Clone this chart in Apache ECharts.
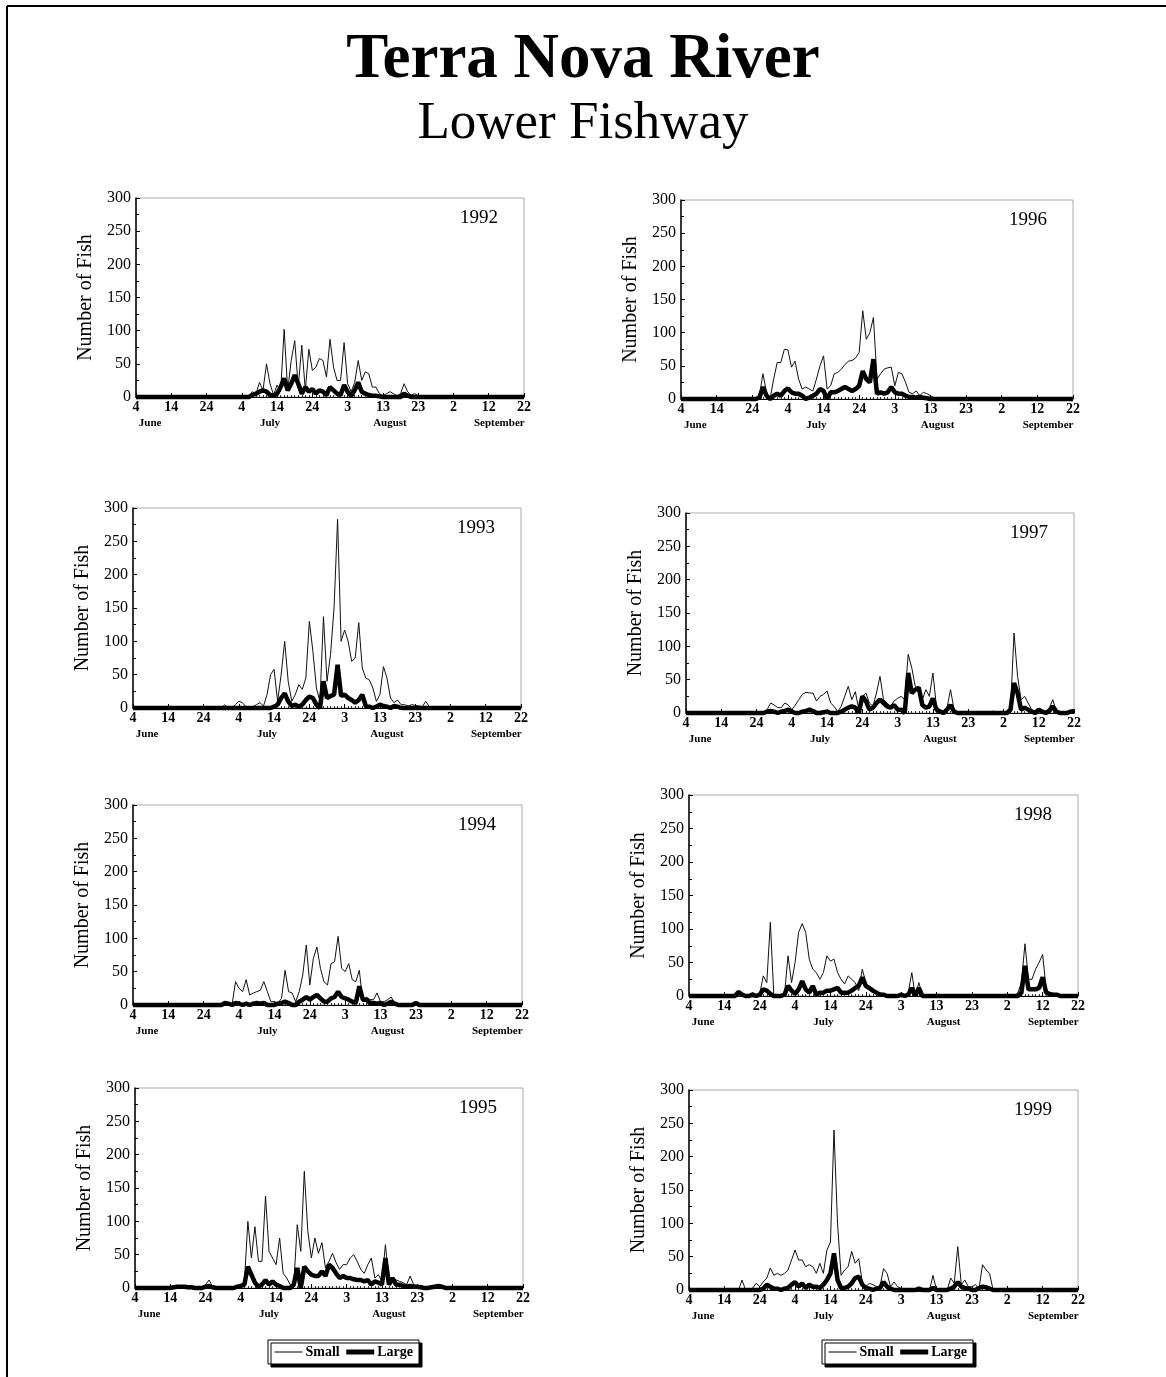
<!DOCTYPE html>
<html>
<head>
<meta charset="utf-8">
<title>Terra Nova River - Lower Fishway</title>
<script src="https://cdn.jsdelivr.net/npm/echarts@6/dist/echarts.min.js"></script>
<style>
  html, body { margin: 0; padding: 0; background: #fff; }
  #chart { width: 1166px; height: 1377px; }
</style>
</head>
<body>
<div id="chart"></div>
<script>
// days counted from June 4 (0) to September 22 (110)
const dayTickLabels = ['4', '14', '24', '4', '14', '24', '3', '13', '23', '2', '12', '22']
const monthNames = ['June', 'July', 'August', 'September']
const monthLabelDays = [4, 38, 72, 103]
const seriesNames = ['Small', 'Large']

// daily counts, first value is on day startXXXX; zero outside the listed run
const start1992 = 32
const small1992 = [2, 8, 4, 22, 10, 50, 20, 3, 18, 8, 102, 10, 55, 85, 15, 78, 10, 72, 40, 45, 58, 55, 30, 87, 45, 25, 25, 82, 20, 8, 22, 55, 25, 38, 35, 15, 15, 5, 2, 5, 8, 5, 2, 5, 20, 8, 3, 5, 2, 1]
const large1992 = [0, 3, 5, 8, 10, 8, 3, 2, 5, 15, 28, 10, 20, 33, 20, 5, 15, 8, 12, 5, 10, 8, 3, 15, 10, 5, 3, 18, 8, 2, 10, 22, 8, 5, 3, 2, 2, 1, 0, 0, 0, 0, 0, 0, 5, 2, 0, 0, 0, 0]

const start1993 = 25
const small1993 = [0, 5, 0, 0, 5, 10, 8, 2, 0, 2, 5, 8, 3, 20, 50, 58, 10, 50, 100, 40, 10, 20, 35, 28, 45, 130, 85, 30, 10, 137, 40, 80, 150, 283, 100, 117, 100, 70, 75, 128, 60, 45, 42, 30, 10, 20, 62, 45, 15, 8, 12, 5, 5, 3, 5, 4, 3, 2, 10, 2, 0]
const large1993 = [0, 0, 0, 0, 0, 0, 0, 0, 0, 0, 0, 0, 0, 0, 0, 2, 5, 15, 22, 10, 3, 5, 2, 5, 12, 17, 15, 5, 0, 40, 15, 18, 20, 65, 18, 20, 15, 12, 8, 12, 20, 3, 2, 0, 2, 5, 3, 2, 0, 3, 2, 0, 0, 0, 0, 0, 0, 0, 0, 0, 0]

const start1994 = 25
const small1994 = [0, 2, 0, 0, 35, 25, 20, 38, 15, 18, 20, 22, 35, 20, 5, 5, 3, 10, 52, 20, 18, 5, 20, 45, 90, 30, 70, 87, 55, 35, 30, 62, 65, 103, 55, 50, 62, 38, 35, 52, 5, 12, 8, 8, 18, 5, 5, 8, 12, 3, 0, 0, 0, 0, 0, 3, 0]
const large1994 = [0, 3, 2, 0, 3, 2, 0, 2, 0, 2, 3, 2, 3, 0, 0, 0, 2, 3, 5, 3, 0, 0, 5, 8, 12, 8, 12, 15, 10, 5, 5, 10, 12, 20, 12, 10, 8, 5, 3, 28, 8, 8, 3, 3, 2, 3, 0, 2, 5, 2, 0, 0, 0, 0, 0, 3, 0]

const start1995 = 10
const small1995 = [0, 1, 2, 2, 2, 2, 1, 1, 0, 0, 5, 12, 2, 0, 0, 0, 0, 0, 1, 2, 5, 8, 100, 45, 92, 40, 40, 138, 55, 45, 35, 75, 22, 15, 5, 5, 95, 55, 175, 85, 45, 75, 52, 68, 30, 40, 52, 38, 28, 35, 35, 45, 50, 40, 28, 22, 35, 45, 15, 20, 10, 65, 10, 15, 12, 10, 8, 5, 18, 5, 3, 2, 2, 2, 1, 2, 2, 3, 1, 0]
const large1995 = [0, 1, 2, 2, 2, 1, 1, 0, 0, 0, 2, 3, 1, 0, 0, 0, 0, 0, 0, 2, 3, 5, 32, 20, 8, 2, 5, 12, 5, 10, 5, 3, 0, 0, 0, 5, 30, 0, 32, 25, 20, 18, 18, 25, 18, 35, 30, 22, 15, 18, 15, 15, 13, 12, 12, 10, 12, 5, 10, 8, 5, 45, 5, 15, 5, 5, 3, 2, 3, 2, 2, 1, 0, 0, 1, 2, 3, 2, 0, 0]

const start1996 = 21
const small1996 = [0, 5, 38, 10, 0, 30, 55, 55, 75, 74, 48, 57, 30, 15, 18, 15, 12, 30, 50, 65, 15, 20, 38, 40, 45, 52, 57, 58, 62, 70, 133, 90, 100, 123, 30, 38, 45, 47, 48, 20, 40, 38, 25, 10, 8, 12, 5, 10, 8, 5, 2, 2, 1]
const large1996 = [0, 2, 18, 5, 0, 5, 8, 5, 12, 16, 10, 8, 8, 5, 0, 2, 5, 8, 15, 12, 0, 10, 10, 12, 15, 18, 15, 12, 15, 20, 42, 30, 25, 60, 8, 10, 8, 10, 18, 10, 8, 8, 5, 3, 3, 2, 3, 2, 1, 0, 0, 0, 0]

const start1997 = 22
const small1997 = [0, 5, 15, 12, 8, 8, 15, 12, 5, 12, 20, 28, 31, 30, 30, 18, 25, 28, 33, 15, 10, 2, 10, 25, 40, 20, 32, 5, 25, 30, 15, 10, 30, 55, 20, 15, 10, 18, 22, 25, 20, 88, 68, 40, 35, 20, 35, 25, 60, 10, 5, 3, 8, 35, 5, 0, 0, 0, 0, 0, 0, 0, 0, 0, 0, 3, 0, 0, 0, 2, 5, 120, 55, 20, 25, 15, 5, 3, 5, 2, 2, 8, 20, 2, 0, 0, 1, 3, 3]
const large1997 = [0, 2, 3, 2, 0, 2, 3, 5, 2, 0, 0, 2, 3, 5, 3, 0, 0, 1, 2, 0, 0, 0, 2, 5, 8, 10, 8, 0, 25, 18, 5, 8, 15, 20, 15, 10, 8, 12, 5, 5, 0, 60, 30, 35, 38, 12, 8, 10, 22, 5, 2, 0, 5, 12, 2, 0, 0, 0, 0, 0, 0, 0, 0, 0, 0, 0, 0, 0, 0, 0, 5, 45, 30, 5, 8, 5, 2, 0, 5, 2, 0, 3, 10, 2, 0, 0, 0, 2, 3]

const start1998 = 13
const small1998 = [0, 8, 0, 0, 2, 5, 2, 3, 30, 20, 110, 0, 0, 0, 2, 60, 20, 50, 95, 108, 95, 55, 40, 35, 25, 35, 60, 52, 55, 35, 25, 18, 30, 25, 20, 8, 40, 20, 10, 5, 5, 5, 3, 2, 0, 0, 2, 3, 0, 5, 35, 0, 20,
  0, 0, 0, 0, 0, 0, 0, 0, 0, 0, 0, 0, 0, 0, 0, 0, 0, 0, 0, 0, 0, 0, 0, 0, 0, 0, 0,
  5, 20, 78, 25, 25, 40, 50, 62, 10, 5, 3, 3, 2, 0]
const large1998 = [0, 6, 2, 0, 0, 2, 0, 2, 10, 8, 3, 0, 0, 0, 2, 15, 8, 3, 10, 22, 10, 5, 15, 2, 5, 5, 8, 8, 10, 12, 5, 5, 5, 8, 12, 15, 28, 15, 12, 8, 5, 2, 2, 0, 0, 0, 0, 2, 0, 2, 12, 0, 12,
  0, 0, 0, 0, 0, 0, 0, 0, 0, 0, 0, 0, 0, 0, 0, 0, 0, 0, 0, 0, 0, 0, 0, 0, 0, 0, 0,
  0, 5, 45, 10, 10, 10, 12, 28, 5, 3, 2, 2, 0, 0]

const start1999 = 14
const small1999 = [0, 15, 0, 0, 3, 10, 5, 12, 18, 33, 22, 25, 22, 25, 30, 45, 60, 45, 45, 35, 38, 35, 25, 40, 25, 60, 72, 240, 100, 22, 30, 35, 58, 40, 47, 12, 5, 10, 8, 5, 5, 32, 25, 5, 12, 5, 2, 0, 0, 0, 0, 0, 3, 0, 0, 22, 0, 0, 0, 0, 18, 10, 65, 8, 15, 5, 5, 8, 2, 38, 30, 25, 0]
const large1999 = [0, 0, 0, 0, 0, 0, 0, 2, 8, 5, 2, 2, 0, 2, 3, 8, 12, 5, 10, 3, 8, 5, 5, 3, 8, 15, 25, 55, 15, 3, 3, 5, 10, 18, 20, 8, 3, 2, 0, 2, 3, 12, 5, 2, 0, 0, 0, 0, 0, 0, 0, 2, 0, 0, 0, 3, 0, 0, 0, 0, 2, 5, 12, 5, 3, 2, 0, 0, 3, 5, 4, 2, 0]

const runs = {
  1992: [start1992, small1992, large1992],
  1993: [start1993, small1993, large1993],
  1994: [start1994, small1994, large1994],
  1995: [start1995, small1995, large1995],
  1996: [start1996, small1996, large1996],
  1997: [start1997, small1997, large1997],
  1998: [start1998, small1998, large1998],
  1999: [start1999, small1999, large1999],
}

// plot boxes on the page
const panels = [
  { year: 1992, left: 136, top: 198, width: 388, height: 199 },
  { year: 1996, left: 681, top: 200, width: 392, height: 199 },
  { year: 1993, left: 133, top: 508, width: 388, height: 200 },
  { year: 1997, left: 686, top: 513, width: 388, height: 200 },
  { year: 1994, left: 133, top: 805, width: 389, height: 200 },
  { year: 1998, left: 689, top: 795, width: 389, height: 201 },
  { year: 1995, left: 135, top: 1088, width: 388, height: 200 },
  { year: 1999, left: 689, top: 1090, width: 389, height: 200 },
]

const serif = "'Liberation Serif', 'DejaVu Serif', serif"
const lastDay = 110

const daily = (start, values) => {
  const out = []
  for (let d = 0; d <= lastDay; d++) {
    const i = d - start
    out.push([d, i >= 0 && i < values.length ? values[i] : 0])
  }
  return out
}

const grid = []
const xAxis = []
const yAxis = []
const series = []
const graphic = [
  { type: 'line', shape: { x1: 7, y1: 6, x2: 1166, y2: 6 }, style: { stroke: '#000', lineWidth: 2 } },
  { type: 'line', shape: { x1: 7, y1: 6, x2: 7, y2: 1377 }, style: { stroke: '#000', lineWidth: 2 } },
]

panels.forEach((p, i) => {
  const [start, small, large] = runs[p.year]
  grid.push({
    left: p.left,
    top: p.top,
    width: p.width,
    height: p.height,
    show: true,
    borderColor: '#aaa',
    borderWidth: 1,
  })
  xAxis.push({
    gridIndex: i,
    type: 'value',
    min: 0,
    max: lastDay,
    interval: 10,
    position: 'bottom',
    axisLine: { show: true, onZero: false, lineStyle: { color: '#000', width: 1 } },
    axisTick: { show: true, inside: true, length: 4, lineStyle: { color: '#000' } },
    minorTick: { show: true, splitNumber: 10, length: 2, lineStyle: { color: '#333' } },
    splitLine: { show: false },
    axisLabel: {
      margin: 3,
      fontFamily: serif,
      fontSize: 14,
      fontWeight: 'bold',
      color: '#000',
      formatter: (v) => dayTickLabels[Math.round(v / 10)],
    },
  })
  xAxis.push({
    gridIndex: i,
    type: 'value',
    min: 0,
    max: lastDay,
    position: 'bottom',
    axisLine: { show: false },
    axisTick: { show: false },
    splitLine: { show: false },
    axisLabel: {
      customValues: monthLabelDays,
      margin: 21,
      fontFamily: serif,
      fontSize: 11,
      fontWeight: 'bold',
      color: '#000',
      formatter: (v) => monthNames[monthLabelDays.indexOf(v)],
    },
  })
  yAxis.push({
    gridIndex: i,
    type: 'value',
    min: 0,
    max: 300,
    interval: 50,
    name: 'Number of Fish',
    nameLocation: 'middle',
    nameGap: 40,
    nameTextStyle: { fontFamily: serif, fontSize: 20, color: '#000' },
    axisLine: { show: true, lineStyle: { color: '#000', width: 1.5 } },
    axisTick: { show: true, inside: true, length: 4, lineStyle: { color: '#000' } },
    minorTick: { show: true, splitNumber: 2, length: 3, lineStyle: { color: '#000' } },
    splitLine: { show: false },
    axisLabel: { margin: 5, fontFamily: serif, fontSize: 16, color: '#000' },
  })
  series.push({
    name: 'Small',
    type: 'line',
    xAxisIndex: i * 2,
    yAxisIndex: i,
    data: daily(start, small),
    symbol: 'none',
    clip: false,
    itemStyle: { color: '#000' },
    lineStyle: { color: '#111', width: 1 },
  })
  series.push({
    name: 'Large',
    type: 'line',
    xAxisIndex: i * 2,
    yAxisIndex: i,
    data: daily(start, large),
    symbol: 'none',
    clip: false,
    itemStyle: { color: '#000' },
    lineStyle: { color: '#000', width: 4.5 },
  })
  graphic.push({
    type: 'text',
    x: p.left + p.width - 26,
    y: p.top + 11,
    style: {
      text: String(p.year),
      fill: '#000',
      font: `19px ${serif}`,
      textAlign: 'right',
      textVerticalAlign: 'top',
    },
  })
})

const legendBox = (left) => ({
  data: [
    { name: seriesNames[0], itemStyle: { opacity: 0 }, lineStyle: { width: 1, color: '#000' } },
    { name: seriesNames[1], itemStyle: { opacity: 0 }, lineStyle: { width: 5, color: '#000' } },
  ],
  left,
  top: 1340,
  orient: 'horizontal',
  padding: [5, 6],
  itemGap: 4,
  itemWidth: 28,
  itemHeight: 12,
  backgroundColor: '#fff',
  borderColor: '#000',
  borderWidth: 1,
  borderRadius: 0,
  shadowColor: '#000',
  shadowBlur: 0,
  shadowOffsetX: 3,
  shadowOffsetY: 3,
  selectedMode: false,
  textStyle: { fontFamily: serif, fontSize: 14, fontWeight: 'bold', color: '#000', padding: [0, 0, 0, -2] },
})

const chart = echarts.init(document.getElementById('chart'))
chart.setOption({
  animation: false,
  backgroundColor: '#fff',
  title: [
    {
      text: 'Terra Nova River',
      left: 'center',
      top: 24,
      textStyle: { fontFamily: serif, fontSize: 63, fontWeight: 'bold', color: '#000' },
    },
    {
      text: 'Lower Fishway',
      left: 'center',
      top: 93,
      textStyle: { fontFamily: serif, fontSize: 53, fontWeight: 'normal', color: '#000' },
    },
  ],
  legend: [legendBox(268), legendBox(822)],
  grid,
  xAxis,
  yAxis,
  series,
  graphic,
})
</script>
</body>
</html>
